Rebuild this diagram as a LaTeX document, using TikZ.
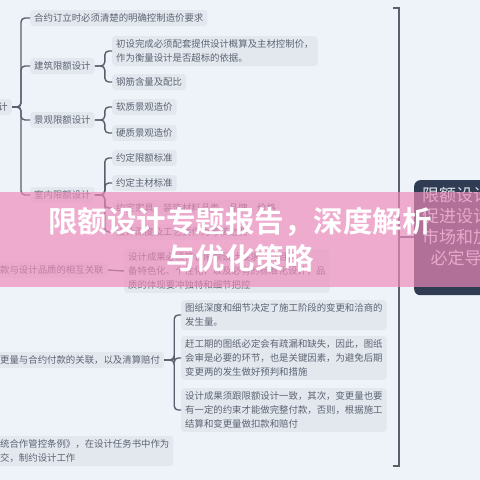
\documentclass[tikz,border=0pt]{standalone}
\usepackage{fontspec}
\newfontfamily\cjk{Noto Sans CJK SC}[BoldFont={Noto Sans CJK SC Bold}]
\definecolor{bgc}{RGB}{238,243,249}
\definecolor{boxc}{RGB}{227,232,239}
\definecolor{txtc}{RGB}{92,100,114}
\definecolor{linec}{RGB}{88,96,110}
\definecolor{darkc}{RGB}{47,60,81}
\definecolor{darktxt}{RGB}{222,228,236}
\definecolor{pinkc}{RGB}{238,138,186}
\begin{document}
\begin{tikzpicture}[x=1pt,y=-1pt,
  every node/.style={font=\cjk\fontsize{9.4}{14}\selectfont, text=txtc, inner sep=0pt},
  tbox/.style={fill=boxc, rounded corners=3pt, inner xsep=4pt, inner ysep=3.5pt, anchor=west, align=left},
  conn/.style={draw=linec, line width=1.4pt, rounded corners=4pt},
  darkbox/.style={fill=darkc, rounded corners=6pt, anchor=north west, minimum width=160pt, minimum height=115pt},
  darktext/.style={font=\cjk\fontsize{17}{21}\selectfont, text=darktxt, align=center, anchor=north},
  titletext/.style={font=\cjk\bfseries\fontsize{29.5}{37}\selectfont, text=white, align=center}
]
\useasboundingbox (0,0) rectangle (480,480);
\fill[bgc] (0,0) rectangle (480,480);
\begin{scope}
\clip (0,0) rectangle (480,480);
% ---------- upper-left branch ----------
\node[tbox, anchor=east] (rootL) at (12,107) {限额设计};
\node[tbox] (a1) at (30,18) {合约订立时必须清楚的明确控制造价要求};
\node[tbox] (a2) at (30,66) {建筑限额设计};
\node[tbox] (a3) at (30,120) {景观限额设计};
\node[tbox] (a4) at (30,195) {室内限额设计};
\foreach \n in {a1,a2,a3,a4} \draw[conn] (rootL.east) -- ++(9,0) |- (\n.west);
\node[tbox] (b1) at (112,51) {初设完成必须配套提供设计概算及主材控制价，\\作为衡量设计是否超标的依据。};
\node[tbox] (b2) at (112,82) {钢筋含量及配比};
\foreach \n in {b1,b2} \draw[conn] (a2.east) -- ++(10,0) |- (\n.west);
\node[tbox] (c1) at (112,107) {软质景观造价};
\node[tbox] (c2) at (112,133) {硬质景观造价};
\foreach \n in {c1,c2} \draw[conn] (a3.east) -- ++(10,0) |- (\n.west);
\node[tbox] (d1) at (112,158) {约定限额标准};
\node[tbox] (d2) at (112,183) {约定主材标准};
\node[tbox] (d3) at (112,208) {约定家具、装饰材料品类、品牌、价格};
\node[tbox] (d4) at (112,232) {设计深度及工艺要作为考核之要};
\foreach \n in {d1,d2,d3,d4} \draw[conn] (a4.east) -- ++(10,0) |- (\n.west);
% ---------- middle branch ----------
\node[tbox] (e0) at (-4,270) {款与设计品质的相互关联};
\node[tbox] (e1) at (124,271) {设计成果必须符合限额设计要求，并且具\\备特色化、个性化，以及必有的标准化设计，品\\质的体现要冲独特和细节把控};
\draw[conn] (e0.east) -- (e1.west);
% ---------- lower branch ----------
\node[tbox] (f0) at (-4,360) {更量与合约付款的关联，以及清算赔付};
\node[tbox] (f1) at (181,315) {图纸深度和细节决定了施工阶段的变更和洽商的\\发生量。};
\node[tbox] (f2) at (181,358) {赶工期的图纸必定会有疏漏和缺失，因此，图纸\\会审是必要的环节，也是关键因素，为避免后期\\变更两的发生做好预判和措施};
\node[tbox] (f3) at (181,410) {设计成果须跟限额设计一致，其次，变更量也要\\有一定的约束才能做完整付款，否则，根据施工\\结算和变更量做扣款和赔付};
\foreach \n in {f1,f2,f3} \draw[conn] (f0.east) -- ++(10,0) |- (\n.west);
\node[tbox] (g0) at (-4,451) {统合作管控条例》，在设计任务书中作为\\交，制约设计工作};
% ---------- right spine and root ----------
\node[darkbox] (root) at (414,180) {};
\node[darktext] (rootText) at (490,187) {限额设计可以有效\\促进设计选材更加\\市场和加工工艺，\\必定导致成本降};
\coordinate (s1) at (393,8);
\coordinate (s2) at (393,466);
\coordinate (sm) at (399,237);
\draw[conn, rounded corners=0pt] (s1) -- (399,8) -- (399,466) -- (s2);
\draw[conn, rounded corners=0pt] (sm) -- (root.west |- sm);
% ---------- overlay band and title ----------
\fill[pinkc, opacity=0.68] (0,192) rectangle (480,287);
\node[titletext] (title) at (240,239.5) {限额设计专题报告，深度解析\\与优化策略};
\end{scope}
\end{tikzpicture}
\end{document}
